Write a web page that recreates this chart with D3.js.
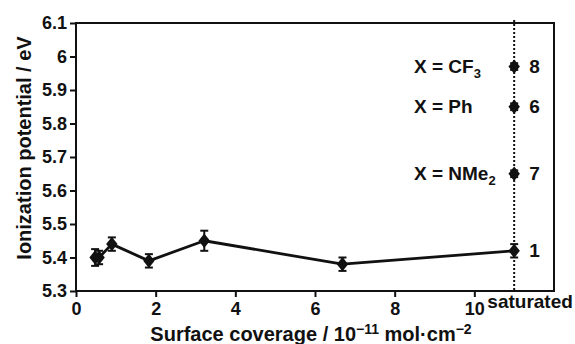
<!DOCTYPE html>
<html>
<head>
<meta charset="utf-8">
<script src="https://cdn.jsdelivr.net/npm/d3@7"></script>
<style>
  body { margin: 0; background: #fff; }
  text { font-family: "Liberation Sans", Arial, sans-serif; font-weight: bold; fill: #111; }
</style>
</head>
<body>
<div id="chart"></div>
<script>
// surface coverage series (10^-11 mol/cm2), last point = saturated
const coverage = [0.48, 0.58, 0.9, 1.83, 3.22, 6.69, 11];
const potential = [5.40, 5.40, 5.44, 5.39, 5.45, 5.38, 5.42];
const potentialErr = [0.025, 0.02, 0.02, 0.02, 0.03, 0.02, 0.02];

// saturated monolayers of other compounds
const satNames = [["X = CF", "3"], ["X = Ph", ""], ["X = NMe", "2"]];
const satIds = ["8", "6", "7"];
const satPotential = [5.97, 5.85, 5.65];
const satErr = [0.01, 0.01, 0.01];
const saturatedX = 11;

const xTicks = [0, 2, 4, 6, 8, 10];
const yTicks = [5.3, 5.4, 5.5, 5.6, 5.7, 5.8, 5.9, 6.0, 6.1];

const W = 575, H = 344;
const margin = { left: 76, right: 21, top: 23, bottom: 53 };

const svg = d3.select("#chart").append("svg")
    .attr("width", W).attr("height", H);

const x = d3.scaleLinear().domain([0, 12]).range([margin.left, W - margin.right]);
const y = d3.scaleLinear().domain([5.3, 6.1]).range([H - margin.bottom, margin.top]);

// diamond a bit wider than d3's own
const diamond = {
    draw(ctx, size) {
        const h = Math.sqrt(size) * 0.8, w = h * 0.8;
        ctx.moveTo(0, -h); ctx.lineTo(w, 0); ctx.lineTo(0, h); ctx.lineTo(-w, 0); ctx.closePath();
    }
};

// frame
svg.append("rect")
    .attr("x", x(0)).attr("y", y(6.1))
    .attr("width", x(12) - x(0)).attr("height", y(5.3) - y(6.1))
    .attr("fill", "none").attr("stroke", "#111").attr("stroke-width", 2);

const xAxis = svg.append("g")
    .attr("transform", `translate(0, ${y(5.3)})`)
    .call(d3.axisBottom(x).tickValues(xTicks).tickFormat(d3.format("d")).tickSize(6).tickSizeOuter(0));
const yAxis = svg.append("g")
    .attr("transform", `translate(${x(0)}, 0)`)
    .call(d3.axisLeft(y).tickValues(yTicks).tickFormat(d => d === 6 ? "6" : d3.format(".1f")(d)).tickSize(6).tickSizeOuter(0));

[xAxis, yAxis].forEach(a => {
    a.select(".domain").remove();
    a.selectAll("line").attr("stroke", "#111").attr("stroke-width", 2);
    a.selectAll("text").style("font-size", "18px").attr("fill", "#111")
        .style("font-family", "'Liberation Sans', Arial, sans-serif").style("font-weight", "bold");
});
xAxis.selectAll("text").attr("y", 24).attr("dy", 0);
yAxis.selectAll("text").attr("x", -9);

svg.append("text")
    .attr("x", x(10) + 13).attr("y", y(5.3) + 17)
    .style("font-size", "19px")
    .text("saturated");

// axis titles
const xt = svg.append("text")
    .attr("x", 311).attr("y", 341)
    .attr("text-anchor", "middle")
    .style("font-size", "20px");
xt.append("tspan").text("Surface coverage / 10");
xt.append("tspan").attr("dy", -7).style("font-size", "14px").text("\u221211");
xt.append("tspan").attr("dy", 7).text(" mol\u00b7cm");
xt.append("tspan").attr("dy", -7).style("font-size", "14px").text("\u22122");

svg.append("text")
    .attr("transform", `translate(31, ${(y(5.3) + y(6.1)) / 2 - 9}) rotate(-90)`)
    .attr("text-anchor", "middle")
    .style("font-size", "20px")
    .text("Ionization potential / eV");

// dotted saturated line
svg.append("line")
    .attr("x1", x(saturatedX)).attr("x2", x(saturatedX))
    .attr("y1", y(6.1) - 3).attr("y2", y(5.3))
    .attr("stroke", "#111").attr("stroke-width", 2)
    .attr("stroke-dasharray", "2,2");

const pts = coverage.map((c, i) => ({ c, v: potential[i], e: potentialErr[i] }));
const sat = satPotential.map((v, i) => ({ c: saturatedX, v, e: satErr[i], name: satNames[i], id: satIds[i] }));

svg.append("path")
    .datum(pts)
    .attr("fill", "none").attr("stroke", "#111").attr("stroke-width", 2.8)
    .attr("stroke-linejoin", "round")
    .attr("d", d3.line().x(d => x(d.c)).y(d => y(d.v)));

const allPts = pts.concat(sat);

// error bars
const eb = svg.append("g").attr("stroke", "#111").attr("stroke-width", 2);
allPts.forEach(d => {
    eb.append("line").attr("x1", x(d.c)).attr("x2", x(d.c))
        .attr("y1", y(d.v - d.e)).attr("y2", y(d.v + d.e));
    [d.v - d.e, d.v + d.e].forEach(v => {
        eb.append("line").attr("x1", x(d.c) - 4).attr("x2", x(d.c) + 4)
            .attr("y1", y(v)).attr("y2", y(v));
    });
});

svg.append("g").selectAll("path")
    .data(allPts)
    .enter().append("path")
    .attr("transform", d => `translate(${x(d.c)}, ${y(d.v)})`)
    .attr("d", d3.symbol().type(diamond).size(80))
    .attr("fill", "#111");

// labels for saturated compounds
const lab = svg.append("g");
sat.forEach(d => {
    const t = lab.append("text")
        .attr("x", 414).attr("y", y(d.v) + 6)
        .style("font-size", "19px");
    t.append("tspan").text(d.name[0]);
    if (d.name[1]) t.append("tspan").attr("dy", 5).style("font-size", "13px").text(d.name[1]);
    lab.append("text")
        .attr("x", x(saturatedX) + 15).attr("y", y(d.v) + 6)
        .style("font-size", "19px").text(d.id);
});
lab.append("text")
    .attr("x", x(saturatedX) + 15).attr("y", y(potential[potential.length - 1]) + 6)
    .style("font-size", "19px").text("1");
</script>
</body>
</html>
